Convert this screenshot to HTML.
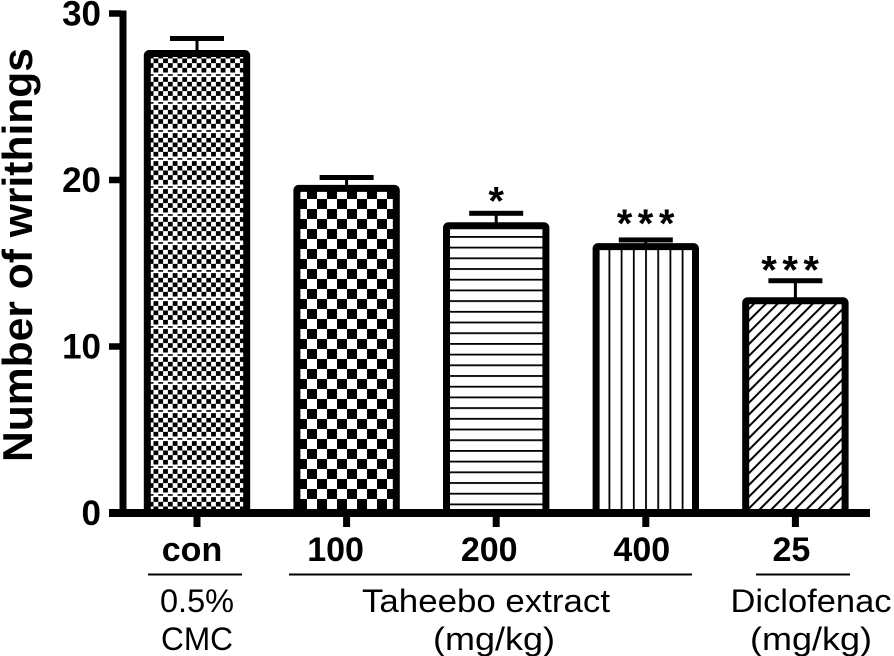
<!DOCTYPE html>
<html>
<head>
<meta charset="utf-8">
<style>
html,body{margin:0;padding:0;background:#fff;width:894px;height:656px;overflow:hidden}
svg{display:block}
text{fill:#000;font-family:"Liberation Sans",sans-serif}
.b{font-weight:bold}
</style>
</head>
<body>
<svg id="chart" width="894" height="656" viewBox="0 0 894 656" xmlns="http://www.w3.org/2000/svg">
<defs>
<pattern id="p-dense" patternUnits="userSpaceOnUse" x="148.7" y="72.5" width="9.6" height="28">
<rect width="9.6" height="28" fill="#fff"/>
<path d="M0 1.6h4.8v1.6h-4.8zM4.8 4.67h4.8v4.67h-4.8zM0 9.33h4.8v4.67h-4.8zM4.8 14h4.8v4.67h-4.8zM0 18.67h4.8v4.67h-4.8zM4.8 23.33h4.8v4.67h-4.8z" fill="#000"/>
</pattern>
<pattern id="p-check" patternUnits="userSpaceOnUse" x="317" y="199" width="20" height="20">
<rect width="20" height="20" fill="#fff"/>
<rect width="10" height="10" fill="#000"/>
<rect x="10" y="10" width="10" height="10" fill="#000"/>
</pattern>
<pattern id="p-horiz" patternUnits="userSpaceOnUse" x="0" y="236" width="20" height="10.7">
<rect width="20" height="10.7" fill="#fff"/>
<rect width="20" height="1.8" fill="#000"/>
</pattern>
<pattern id="p-vert" patternUnits="userSpaceOnUse" x="608.5" y="0" width="12.2" height="20">
<rect width="12.2" height="20" fill="#fff"/>
<rect width="1.8" height="20" fill="#000"/>
</pattern>
<pattern id="p-diag" patternUnits="userSpaceOnUse" width="8.3" height="20" patternTransform="rotate(45)">
<rect width="8.3" height="20" fill="#fff"/>
<rect width="2" height="20" fill="#000"/>
</pattern>
</defs>
<g id="bars"></g>
<g id="axes"></g>
<text class="b" transform="translate(32,462) rotate(-90)" font-size="42" textLength="414" lengthAdjust="spacingAndGlyphs">Number of writhings</text>
<rect x="148" y="573.5" width="94" height="2" fill="#000"/>
<rect x="289" y="573.5" width="403" height="2" fill="#000"/>
<rect x="756" y="573.5" width="94" height="2" fill="#000"/>
<text x="197" y="612" font-size="32" text-anchor="middle" textLength="74" lengthAdjust="spacingAndGlyphs">0.5%</text>
<text x="197" y="650" font-size="32" text-anchor="middle" textLength="72" lengthAdjust="spacingAndGlyphs">CMC</text>
<text x="486" y="612" font-size="32" text-anchor="middle" textLength="248" lengthAdjust="spacingAndGlyphs">Taheebo extract</text>
<text x="494" y="650" font-size="32" text-anchor="middle" textLength="122" lengthAdjust="spacingAndGlyphs">(mg/kg)</text>
<text x="811" y="612" font-size="32" text-anchor="middle" textLength="161" lengthAdjust="spacingAndGlyphs">Diclofenac</text>
<text x="811" y="650" font-size="32" text-anchor="middle" textLength="122" lengthAdjust="spacingAndGlyphs">(mg/kg)</text>
</svg>
<script>
var categories = ['con', '100', '200', '400', '25'];
var means = [27.6, 19.5, 17.25, 16.0, 12.75];
var errors = [0.9, 0.65, 0.75, 0.4, 1.2];
var significance = ['', '', '*', '***', '***'];
var patterns = ['p-dense', 'p-check', 'p-horiz', 'p-vert', 'p-diag'];
var yTicks = [0, 10, 20, 30];

var NS = 'http://www.w3.org/2000/svg';
function yScale(v) { return 513 - v * (499.5 / 30); }
function xCenter(i) { return 197 + i * 149.6; }
function make(tag, parent, attrs, txt) {
  var el = document.createElementNS(NS, tag);
  for (var k in attrs) el.setAttribute(k, attrs[k]);
  if (txt !== undefined) el.textContent = txt;
  parent.appendChild(el);
  return el;
}
var barsG = document.getElementById('bars');
var axesG = document.getElementById('axes');

categories.forEach(function (c, i) {
  var cx = xCenter(i), top = yScale(means[i]), capY = yScale(means[i] + errors[i]);
  var stem = make('rect', barsG, { x: cx - 1.5, y: capY, width: 3, height: top - capY, fill: '#000' });
  
  
  var cap = make('rect', barsG, { x: cx - 27, y: capY - 2.5, width: 54, height: 5, fill: '#000' });
  
  
  var bar = make('rect', barsG, { x: cx - 49.7, y: top, width: 99.4, height: yScale(0) - top, rx: 2, fill: 'url(#' + patterns[i] + ')', stroke: '#000', 'stroke-width': 7 });
  
  
  if (significance[i]) {
    var gap = i === 2 ? 21 : (i === 3 ? 25 : 19);
    var shift = i === 4 ? -2.5 : (significance[i].length > 1 ? 2.5 : 0);
    var s = make('text', barsG, { x: cx + shift, y: capY - gap + 22, 'font-size': 40, 'font-weight': 'bold', 'text-anchor': 'middle', 'letter-spacing': significance[i].length > 1 ? 5.5 : 0 }, significance[i]);
    
    
  }
  var tick = make('rect', axesG, { x: cx - 3.5, y: 513, width: 7, height: 14, fill: '#000' });
  
  
  var label = make('text', axesG, { x: cx - 4 + (i === 0 ? -1 : 0) - (i === 1 ? 7 : 0) - (i === 2 ? 3 : 0), y: 561, 'font-size': 34, 'font-weight': 'bold', 'text-anchor': 'middle' }, c);
  
  
});

var yAxis = make('rect', axesG, { x: 119.5, y: yScale(30) - 3, width: 7, height: yScale(0) - yScale(30) + 3, fill: '#000' });


var xAxis = make('rect', axesG, { x: 109, y: 509, width: 761, height: 8, fill: '#000' });



yTicks.forEach(function (t) {
  var y = yScale(t);
  var tk = make('rect', axesG, { x: 109, y: y - 3.25, width: 12, height: 6.5, fill: '#000' });
  
  
  var lb = make('text', axesG, { x: 101, y: y + 12, 'font-size': 35, 'font-weight': 'bold', 'text-anchor': 'end' }, String(t));
  
  
});
</script>
</body>
</html>
